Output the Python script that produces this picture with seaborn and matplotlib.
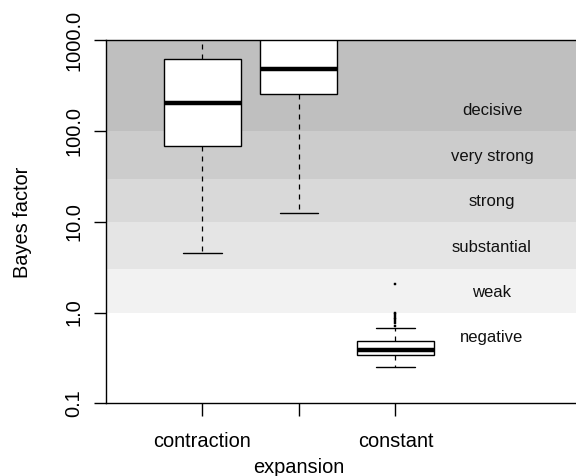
import numpy as np
import pandas as pd
import matplotlib
matplotlib.use("Agg")
import matplotlib.pyplot as plt
import matplotlib.transforms as mtransforms
import seaborn as sns

# ---- data ----
groups = ["contraction", "expansion", "constant"]
contraction = [4.54, 69.2, 204, 618, 1300]
expansion = [12.6, 254, 480, 1800, 3500]
constant = [0.252,
            0.27, 0.28, 0.29, 0.30, 0.31, 0.315, 0.32, 0.325, 0.33,
            0.3385,
            0.345, 0.35, 0.355, 0.36, 0.365, 0.37, 0.375, 0.378, 0.381,
            0.384,
            0.39, 0.40, 0.41, 0.42, 0.43, 0.44, 0.45, 0.46, 0.47,
            0.483,
            0.671,
            0.72, 0.76, 0.80, 0.84, 0.88, 0.92, 0.96, 1.0, 2.05]

band_labels = ["negative", "weak", "substantial", "strong", "very strong", "decisive"]
band_lows = [0.1, 1, 3, 10, 30, 100]
band_highs = [1, 3, 10, 30, 100, 1000]
band_label_y = [0.548, 1.73, 5.48, 17.3, 54.8, 173]
band_colors = ["#FFFFFF", "#F2F2F2", "#E5E5E5", "#D9D9D9", "#CCCCCC", "#BFBFBF"]

y_ticks = [0.1, 1, 10, 100, 1000]
y_ticklabels = ["0.1", "1.0", "10.0", "100.0", "1000.0"]

df = pd.DataFrame({
    "group": (["contraction"] * len(contraction) + ["expansion"] * len(expansion)
              + ["constant"] * len(constant)),
    "bf": contraction + expansion + constant,
})

sns.set_theme(style="white")
plt.rcParams["font.family"] = ["Liberation Sans", "DejaVu Sans"]

fig = plt.figure(figsize=(5.76, 4.76), dpi=100)
ax = fig.add_axes([0.184, 0.1527, 0.816, 0.7626])

sns.boxplot(data=df, x="group", y="bf", order=groups, ax=ax, width=0.8,
            color="white", linecolor="black", linewidth=1.0, whis=1.5,
            medianprops=dict(linewidth=3.2, color="black", zorder=5),
            whiskerprops=dict(linestyle=(0, (4, 4)), linewidth=0.9),
            capprops=dict(linewidth=1.0),
            flierprops=dict(marker="s", markersize=1.6, markerfacecolor="black",
                            markeredgecolor="black", markeredgewidth=0.3))
ax.set_yscale("log")
ax.set_ylim(0.1, 1000)
ax.set_xlim(-0.997, 3.87)

for lo, hi, c in zip(band_lows, band_highs, band_colors):
    ax.axhspan(lo, hi, color=c, lw=0, zorder=0)

for lab, yv in zip(band_labels, band_label_y):
    ax.text(3, yv, lab, ha="center", va="center_baseline", fontsize=12, color="#111111")

ax.yaxis.set_major_locator(matplotlib.ticker.FixedLocator(y_ticks))
ax.yaxis.set_major_formatter(matplotlib.ticker.FixedFormatter(y_ticklabels))
ax.yaxis.set_minor_locator(matplotlib.ticker.NullLocator())
ax.set_xticks([0, 1, 2])
ax.set_xticklabels(["contraction", "", "constant"])

ax.tick_params(axis="both", direction="out", length=9, width=1, color="black",
               labelsize=14.4, labelcolor="black", left=True, bottom=True)
ax.tick_params(axis="x", pad=11.5)
ax.tick_params(axis="y", pad=7.5)
for lbl in ax.get_yticklabels():
    lbl.set_rotation(90)
    lbl.set_va("center")

trans = mtransforms.blended_transform_factory(ax.transData, ax.transAxes)
ax.text(1, -0.1906, "expansion", transform=trans, ha="center", va="baseline",
        fontsize=14.4, color="black")

ax.set_xlabel("")
ax.set_ylabel("Bayes factor", fontsize=14.4, color="black")
ax.yaxis.set_label_coords(-0.158, 0.5)

for s in ["left", "bottom", "top"]:
    ax.spines[s].set_visible(True)
    ax.spines[s].set_color("black")
    ax.spines[s].set_linewidth(1.0)
ax.spines["right"].set_visible(False)
ax.set_facecolor("white")

fig.savefig("out.png", dpi=100)
